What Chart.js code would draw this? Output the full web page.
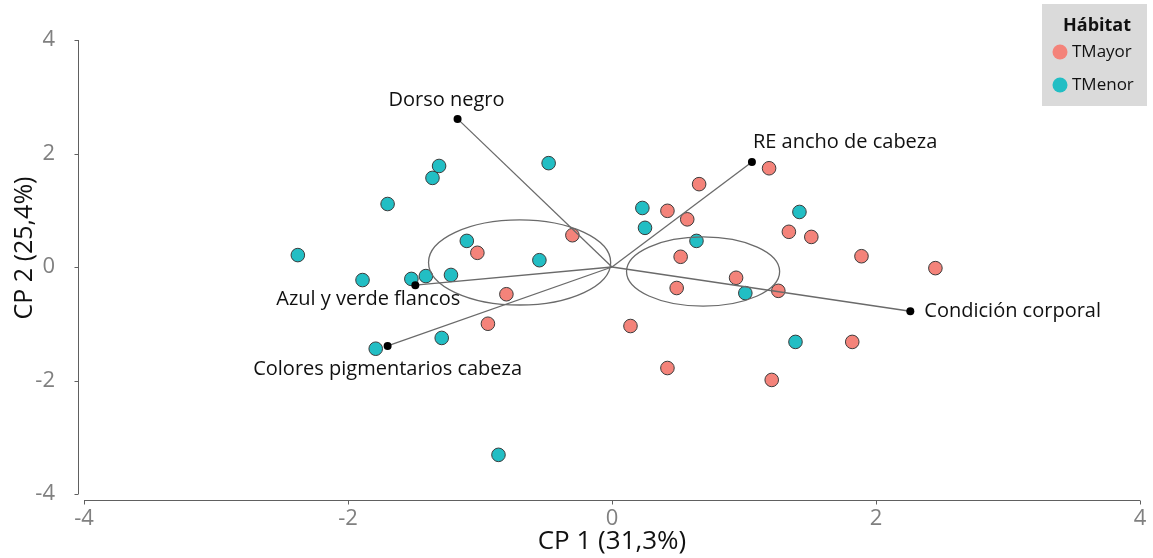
<!DOCTYPE html>
<html>
<head>
<meta charset="utf-8">
<script src="https://cdn.jsdelivr.net/npm/chart.js@4/dist/chart.umd.min.js"></script>
<style>
  html, body { margin: 0; padding: 0; background: #ffffff; }
  #wrap { width: 1153px; height: 558px; position: relative; }
</style>
</head>
<body>
<div id="wrap"><canvas id="biplot"></canvas></div>
<script>
// Individual scores on the first two principal components, by habitat
const tmayorX = [-0.30, -1.02, -0.80, -0.94, 1.19, 0.66, 0.42, 0.57, 0.52, 0.94, 0.49, 1.26, 1.34, 1.51, 1.89, 0.14, 1.82, 0.42, 2.45, 1.21];
const tmayorY = [0.56, 0.25, -0.48, -1.00, 1.74, 1.46, 0.99, 0.84, 0.18, -0.19, -0.37, -0.42, 0.62, 0.53, 0.19, -1.04, -1.32, -1.78, -0.02, -1.99];
const tmenorX = [-2.38, -1.70, -1.31, -1.36, -0.48, -1.89, -1.52, -1.41, -1.22, -1.10, -0.55, -1.79, -1.29, -0.86, 0.23, 0.25, 0.64, 1.01, 1.42, 1.39];
const tmenorY = [0.21, 1.11, 1.78, 1.57, 1.83, -0.23, -0.21, -0.16, -0.14, 0.46, 0.12, -1.44, -1.25, -3.31, 1.04, 0.69, 0.46, -0.46, 0.97, -1.32];

// Variable loadings (arrow tips)
const varNames = ["Dorso negro", "RE ancho de cabeza", "Condición corporal", "Azul y verde flancos", "Colores pigmentarios cabeza"];
const loadX = [-1.17, 1.06, 2.26, -1.49, -1.70];
const loadY = [2.61, 1.85, -0.78, -0.32, -1.39];

// Concentration ellipses (centre and semi-axes, in component units)
const ellipseCX = [-0.70, 0.69];
const ellipseCY = [0.08, -0.08];
const ellipseRX = [0.69, 0.58];
const ellipseRY = [0.75, 0.61];

// Axis ticks and titles
const axisTicks = [-4, -2, 0, 2, 4];
const xTitle = "CP 1 (31,3%)";
const yTitle = "CP 2 (25,4%)";
const groupNames = ["TMayor", "TMenor"];
const legendTitle = "Hábitat";

const FONT = "'Open Sans', 'DejaVu Sans', sans-serif";
const colMayor = "#F4837A";
const colMenor = "#22BEC4";
const lineGrey = "#6a6a6a";

Chart.defaults.font.family = FONT;

const toPoints = (xs, ys) => xs.map((x, i) => ({ x: x, y: ys[i] }));

const datasets = [];
// loading arrows, drawn above the points
varNames.forEach((name, i) => {
  datasets.push({
    label: name,
    type: 'line',
    data: [{ x: 0, y: 0 }, { x: loadX[i], y: loadY[i] }],
    borderColor: lineGrey,
    borderWidth: 1.3,
    pointRadius: [0, 4],
    pointBackgroundColor: '#000',
    pointBorderWidth: 0,
    fill: false,
    order: 0
  });
});
datasets.push({
  label: groupNames[0],
  data: toPoints(tmayorX, tmayorY),
  backgroundColor: colMayor,
  borderColor: '#3b3b3b',
  borderWidth: 1,
  pointRadius: 6.8,
  order: 2
});
datasets.push({
  label: groupNames[1],
  data: toPoints(tmenorX, tmenorY),
  backgroundColor: colMenor,
  borderColor: '#3b3b3b',
  borderWidth: 1,
  pointRadius: 6.8,
  order: 2
});

const labelPlacement = [
  { align: 'center', dx: -11, dy: -19 },
  { align: 'left', dx: 1, dy: -20 },
  { align: 'left', dx: 14, dy: 0 },
  { align: 'center', dx: -47, dy: 14 },
  { align: 'center', dx: 0, dy: 23 }
];

const biplotDecor = {
  id: 'biplotDecor',
  beforeDatasetsDraw(chart) {
    const { ctx, chartArea: a, scales: { x, y } } = chart;
    ctx.save();
    ctx.strokeStyle = '#606060';
    ctx.lineWidth = 1;
    // detached axis lines with short tick marks
    const yAxisX = a.left - 5.5;
    const xAxisY = a.bottom + 6.5;
    ctx.beginPath();
    ctx.moveTo(yAxisX, y.getPixelForValue(4));
    ctx.lineTo(yAxisX, y.getPixelForValue(-4));
    axisTicks.forEach(v => {
      const py = Math.round(y.getPixelForValue(v)) + 0.5;
      ctx.moveTo(yAxisX - 4, py);
      ctx.lineTo(yAxisX, py);
    });
    ctx.moveTo(x.getPixelForValue(-4), xAxisY);
    ctx.lineTo(x.getPixelForValue(4), xAxisY);
    axisTicks.forEach(v => {
      const px = Math.round(x.getPixelForValue(v)) + 0.5;
      ctx.moveTo(px, xAxisY);
      ctx.lineTo(px, xAxisY + 4);
    });
    ctx.stroke();

    // vertical axis title
    ctx.fillStyle = '#111';
    ctx.font = '25px ' + FONT;
    ctx.textAlign = 'center';
    ctx.textBaseline = 'middle';
    ctx.translate(25, (a.top + a.bottom) / 2 - 19);
    ctx.rotate(-Math.PI / 2);
    ctx.fillText(yTitle, 0, 0);
    ctx.restore();
  },
  afterDatasetsDraw(chart) {
    const { ctx, scales: { x, y } } = chart;
    ctx.save();
    // concentration ellipses
    ctx.strokeStyle = lineGrey;
    ctx.lineWidth = 1.3;
    ellipseCX.forEach((cx, i) => {
      const px = x.getPixelForValue(cx);
      const py = y.getPixelForValue(ellipseCY[i]);
      const rx = Math.abs(x.getPixelForValue(cx + ellipseRX[i]) - px);
      const ry = Math.abs(y.getPixelForValue(ellipseCY[i] + ellipseRY[i]) - py);
      ctx.beginPath();
      ctx.ellipse(px, py, rx, ry, 0, 0, Math.PI * 2);
      ctx.stroke();
    });
    // variable names beside the arrow tips
    ctx.fillStyle = '#111';
    ctx.font = '20px ' + FONT;
    ctx.textBaseline = 'middle';
    varNames.forEach((name, i) => {
      const p = labelPlacement[i];
      ctx.textAlign = p.align;
      ctx.fillText(name, x.getPixelForValue(loadX[i]) + p.dx, y.getPixelForValue(loadY[i]) + p.dy);
    });
    ctx.restore();
  },
  afterDraw(chart) {
    const { ctx, width } = chart;
    ctx.save();
    // legend box
    const bx = width - 111, by = 4, bw = 105, bh = 102;
    ctx.fillStyle = '#dadada';
    ctx.fillRect(bx, by, bw, bh);
    ctx.fillStyle = '#111';
    ctx.font = 'bold 18px ' + FONT;
    ctx.textAlign = 'center';
    ctx.textBaseline = 'middle';
    ctx.fillText(legendTitle, bx + 55, by + 22);
    const cols = [colMayor, colMenor];
    ctx.font = '17px ' + FONT;
    ctx.textAlign = 'left';
    groupNames.forEach((g, i) => {
      const cy = by + 48 + i * 33;
      ctx.beginPath();
      ctx.arc(bx + 18, cy, 7.5, 0, Math.PI * 2);
      ctx.fillStyle = cols[i];
      ctx.fill();
      ctx.fillStyle = '#111';
      ctx.fillText(g, bx + 30, cy);
    });
    ctx.restore();
  }
};

new Chart(document.getElementById('biplot'), {
  type: 'scatter',
  data: { datasets: datasets },
  plugins: [biplotDecor],
  options: {
    responsive: true,
    maintainAspectRatio: false,
    animation: false,
    layout: { padding: { left: 0, right: 13, top: 40, bottom: 0 } },
    plugins: {
      legend: { display: false },
      tooltip: { enabled: false }
    },
    scales: {
      x: {
        type: 'linear',
        min: -4, max: 4,
        afterBuildTicks(s) { s.ticks = axisTicks.map(v => ({ value: v })); },
        ticks: { color: '#808080', font: { size: 22 }, padding: 4 },
        grid: { display: false },
        border: { display: false },
        title: { display: true, text: xTitle, color: '#111', font: { size: 26 }, padding: { top: 2, bottom: 1 } },
        afterFit(s) { s.height = 64; }
      },
      y: {
        type: 'linear',
        min: -4, max: 4,
        afterBuildTicks(s) { s.ticks = axisTicks.map(v => ({ value: v })); },
        ticks: { color: '#808080', font: { size: 22 }, padding: 21 },
        grid: { display: false },
        border: { display: false },
        afterFit(s) { s.width = 84; }
      }
    }
  }
});
</script>
</body>
</html>
